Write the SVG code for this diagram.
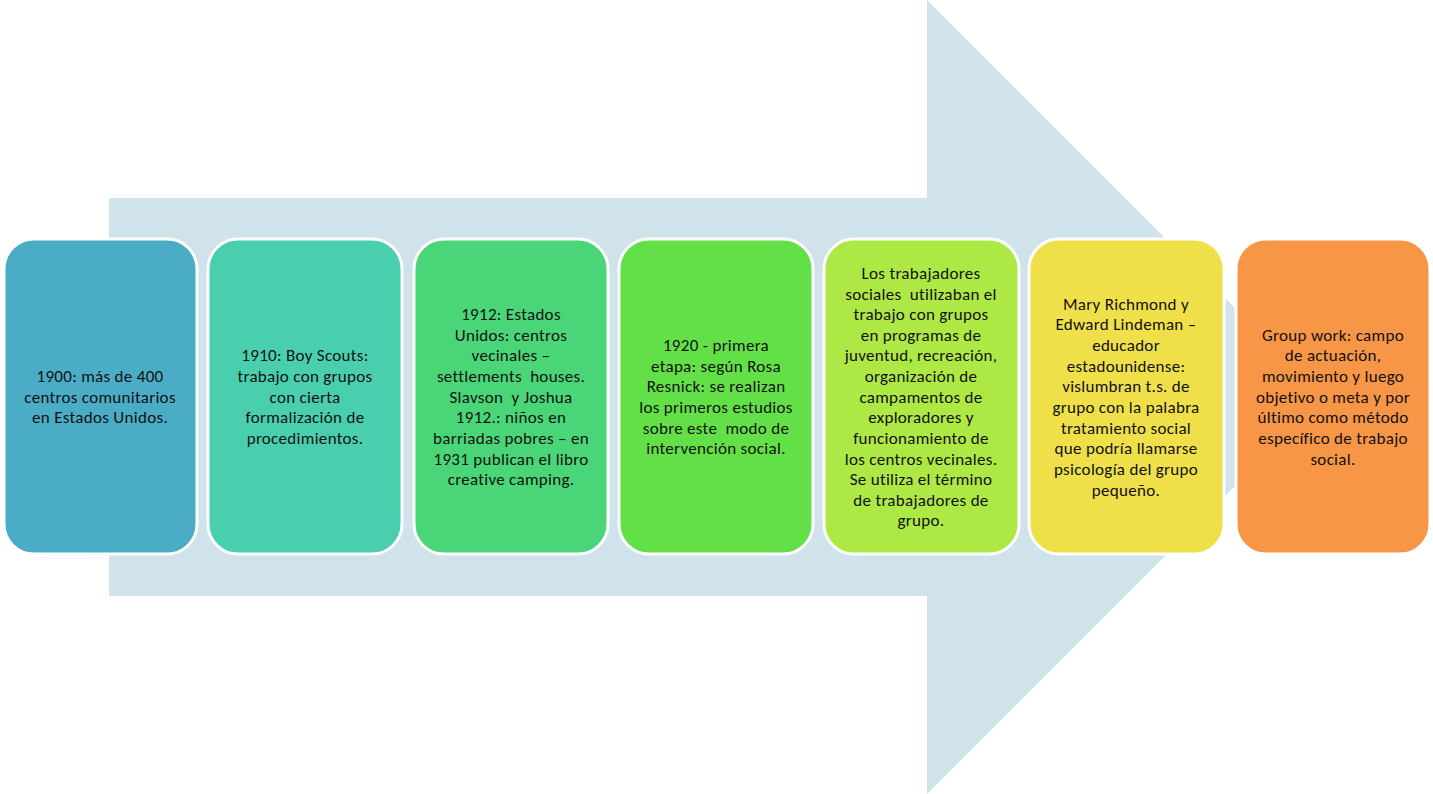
<svg xmlns="http://www.w3.org/2000/svg" width="1433" height="794" viewBox="0 0 1433 794">
<style>
.box{stroke:#ffffff;stroke-width:3}
.t{font-family:Carlito,Calibri,Lato,"Liberation Sans",sans-serif;font-size:17px;letter-spacing:0.3px;fill:#111111;text-anchor:middle;white-space:pre}
</style>
<rect width="1433" height="794" fill="#ffffff"/>
<g id="arrow">
<polygon points="109,198 927,198 927,0 1324,397 927,794 927,596 109,596" fill="#D0E3EA"/>
</g>
<g id="connectors"></g>
<g id="n1">
<rect class="box" x="4" y="239" width="193" height="315" rx="30" fill="#4BACC6"/>
<text class="t"><tspan x="100" y="382">1900: más de 400</tspan><tspan x="100" y="403">centros comunitarios</tspan><tspan x="100" y="423">en Estados Unidos.</tspan></text>
</g>
<g id="n2">
<rect class="box" x="208" y="239" width="194" height="315" rx="30" fill="#4ACFAE"/>
<text class="t"><tspan x="305" y="361">1910: Boy Scouts:</tspan><tspan x="305" y="382">trabajo con grupos</tspan><tspan x="305" y="403">con cierta</tspan><tspan x="305" y="423">formalización de</tspan><tspan x="305" y="444">procedimientos.</tspan></text>
</g>
<g id="n3">
<rect class="box" x="414" y="239" width="194" height="315" rx="30" fill="#4AD678"/>
<text class="t"><tspan x="511" y="320">1912: Estados</tspan><tspan x="511" y="341">Unidos: centros</tspan><tspan x="511" y="361">vecinales –</tspan><tspan x="511" y="382">settlements  houses.</tspan><tspan x="511" y="403">Slavson  y Joshua</tspan><tspan x="511" y="423">1912.: niños en</tspan><tspan x="511" y="444">barriadas pobres – en</tspan><tspan x="511" y="465">1931 publican el libro</tspan><tspan x="511" y="485">creative camping.</tspan></text>
</g>
<g id="n4">
<rect class="box" x="619" y="239" width="194" height="315" rx="30" fill="#63E048"/>
<text class="t"><tspan x="716" y="351">1920 - primera</tspan><tspan x="716" y="372">etapa: según Rosa</tspan><tspan x="716" y="392">Resnick: se realizan</tspan><tspan x="716" y="413">los primeros estudios</tspan><tspan x="716" y="434">sobre este  modo de</tspan><tspan x="716" y="454">intervención social.</tspan></text>
</g>
<g id="n5">
<rect class="box" x="824" y="239" width="195" height="315" rx="30" fill="#AEE845"/>
<text class="t"><tspan x="921" y="279">Los trabajadores</tspan><tspan x="921" y="300">sociales  utilizaban el</tspan><tspan x="921" y="320">trabajo con grupos</tspan><tspan x="921" y="341">en programas de</tspan><tspan x="921" y="361">juventud, recreación,</tspan><tspan x="921" y="382">organización de</tspan><tspan x="921" y="403">campamentos de</tspan><tspan x="921" y="423">exploradores y</tspan><tspan x="921" y="444">funcionamiento de</tspan><tspan x="921" y="465">los centros vecinales.</tspan><tspan x="921" y="485">Se utiliza el término</tspan><tspan x="921" y="506">de trabajadores de</tspan><tspan x="921" y="526">grupo.</tspan></text>
</g>
<g id="n6">
<rect class="box" x="1029" y="239" width="195" height="315" rx="30" fill="#EFE04A"/>
<text class="t"><tspan x="1126" y="310">Mary Richmond y</tspan><tspan x="1126" y="330">Edward Lindeman –</tspan><tspan x="1126" y="351">educador</tspan><tspan x="1126" y="372">estadounidense:</tspan><tspan x="1126" y="392">vislumbran t.s. de</tspan><tspan x="1126" y="413">grupo con la palabra</tspan><tspan x="1126" y="434">tratamiento social</tspan><tspan x="1126" y="454">que podría llamarse</tspan><tspan x="1126" y="475">psicología del grupo</tspan><tspan x="1126" y="496">pequeño.</tspan></text>
</g>
<g id="n7">
<rect class="box" x="1236" y="239" width="194" height="315" rx="30" fill="#F79646"/>
<text class="t"><tspan x="1333" y="341">Group work: campo</tspan><tspan x="1333" y="361">de actuación,</tspan><tspan x="1333" y="382">movimiento y luego</tspan><tspan x="1333" y="403">objetivo o meta y por</tspan><tspan x="1333" y="423">último como método</tspan><tspan x="1333" y="444">específico de trabajo</tspan><tspan x="1333" y="465">social.</tspan></text>
</g>
</svg>
